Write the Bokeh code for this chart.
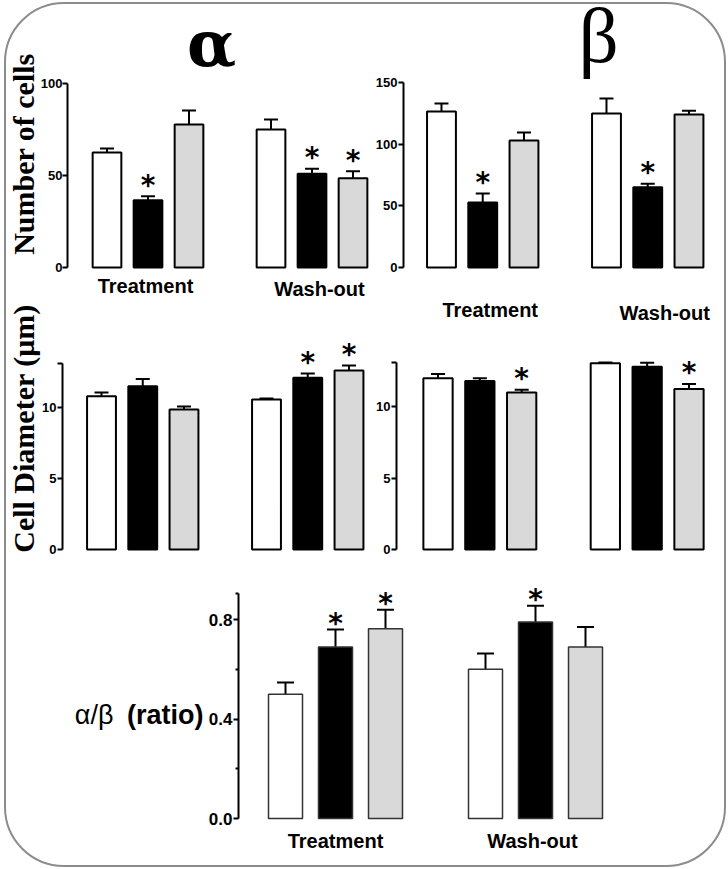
import math
from bokeh.plotting import figure
from bokeh.models import (ColumnDataSource, FixedTicker, Whisker, TeeHead, Label,
                          PrintfTickFormatter, Range1d)
from bokeh.layouts import row, column
from bokeh.core.properties import value
from bokeh.embed import file_html
from bokeh.resources import INLINE

# ---------------- data ----------------
groups = ["Treatment", "Wash-out"]
conditions = ["Condition 1", "Condition 2", "Condition 3"]
bar_colors = ["white", "black", "#d9d9d9"]

alpha_cells = [62.5, 36.5, 77.7, 75.0, 51.0, 48.5]
alpha_cells_err = [2.2, 2.2, 7.6, 5.4, 2.7, 3.8]
alpha_cells_sig = [0, 1, 0, 0, 1, 1]

beta_cells = [126.5, 52.7, 103.0, 124.9, 65.0, 124.0]
beta_cells_err = [6.5, 7.3, 6.5, 12.1, 3.0, 3.0]
beta_cells_sig = [0, 1, 0, 0, 1, 0]

alpha_diam = [10.8, 11.5, 9.86, 10.56, 12.1, 12.6]
alpha_diam_err = [0.26, 0.5, 0.21, 0.07, 0.3, 0.36]
alpha_diam_sig = [0, 0, 0, 0, 1, 1]

beta_diam = [12.0, 11.8, 11.0, 13.05, 12.8, 11.25]
beta_diam_err = [0.3, 0.2, 0.2, 0.05, 0.28, 0.35]
beta_diam_sig = [0, 0, 1, 0, 0, 1]

ratio = [0.50, 0.69, 0.763, 0.60, 0.79, 0.69]
ratio_err = [0.047, 0.07, 0.077, 0.064, 0.066, 0.08]
ratio_sig = [0, 1, 1, 0, 1, 0]

cells_alpha_ticks = [0, 50, 100]
cells_beta_ticks = [0, 50, 100, 150]
diam_ticks = [0, 5, 10]
diam_axis_top = 13.1
ratio_ticks = [0.0, 0.4, 0.8]
ratio_minor_ticks = [0.2, 0.6]
ratio_axis_top = 0.905

SANS = "Liberation Sans"
SERIF = "Liberation Serif"


def panel(vals, errs, sig, *, width, height, x_range, y_range, axis_x, axis_top,
          ticks, top_tick=None, minor=None, minor_out=3, fmt=None,
          tick_size="13px", tick_standoff=1, show_groups=True,
          label_dx=(0, 0), label_dy=(11, 11),
          bar_w=0.7, cap=14, star_offset=-11, outline="black", outline_w=2):
    p = figure(width=width, height=height,
               x_range=Range1d(*x_range), y_range=Range1d(*y_range),
               output_backend="svg", toolbar_location=None,
               x_axis_location=None, y_axis_location="left",
               min_border_left=0, min_border_right=0,
               min_border_top=0, min_border_bottom=0)
    p.background_fill_color = None
    p.border_fill_color = None
    p.outline_line_color = None
    p.grid.grid_line_color = None

    n = len(conditions)
    xs = [g * (n + 1) + c for g in range(len(groups)) for c in range(n)]
    colors = [bar_colors[c] for g in range(len(groups)) for c in range(n)]
    upper = [v + e for v, e in zip(vals, errs)]
    src = ColumnDataSource(dict(x=xs, top=vals, upper=upper, color=colors))
    centers = [g * (n + 1) + (n - 1) / 2 for g in range(len(groups))]

    p.add_layout(Whisker(source=src, base="x", lower="top", upper="upper",
                         dimension="height", line_width=2, line_color="black",
                         upper_head=TeeHead(size=cap, line_width=2, line_color="black"),
                         lower_head=None))
    p.vbar(x="x", top="top", bottom=0, width=bar_w, fill_color="color",
           line_color=outline, line_width=outline_w, source=src)

    # significance stars
    sx = [x for x, s in zip(xs, sig) if s]
    sy = [u for u, s in zip(upper, sig) if s]
    p.text(x=sx, y=sy, text=["*"] * len(sx), text_align="center",
           text_baseline="alphabetic", y_offset=star_offset,
           text_font=value("DejaVu Sans"),
           text_font_style="bold", text_font_size="28px", text_color="black")

    # group names under the bars
    if show_groups:
        gsrc = ColumnDataSource(dict(x=centers, y=[0] * len(centers), text=groups,
                                     dx=list(label_dx), dy=list(label_dy)))
        p.text(x="x", y="y", text="text", x_offset="dx", y_offset="dy", source=gsrc,
               text_align="center", text_baseline="top",
               text_font=value(SANS), text_font_style="bold",
               text_font_size="20px", text_color="black")

    # y axis drawn at a fixed position inside the frame
    ax = p.yaxis[0]
    ax.fixed_location = axis_x
    major = list(ticks)
    minors = list(minor or [])
    if top_tick is not None:
        minors.append(top_tick)
    ax.ticker = FixedTicker(ticks=major, minor_ticks=minors)
    if fmt is not None:
        ax.formatter = PrintfTickFormatter(format=fmt)
    ax.bounds = (0, axis_top)
    ax.axis_line_width = 2
    ax.axis_line_color = "black"
    ax.major_tick_line_width = 2
    ax.major_tick_in = 0
    ax.major_tick_out = 5
    ax.minor_tick_line_width = 2
    ax.minor_tick_in = 0
    ax.minor_tick_out = minor_out if minors else 0
    ax.major_label_standoff = tick_standoff
    ax.major_label_text_font = SANS
    ax.major_label_text_font_style = "bold"
    ax.major_label_text_font_size = tick_size
    ax.major_label_text_color = "black"
    return p


def add_text(p, x, y, text, font, size, style="normal", angle=0.0,
             align="center", baseline="middle"):
    p.add_layout(Label(x=x, y=y, x_units="screen", y_units="screen", text=text,
                       angle=angle, text_align=align, text_baseline=baseline,
                       text_font=font, text_font_style=style,
                       text_font_size=size, text_color="black"))


# column A (alpha)
pA1 = panel(alpha_cells, alpha_cells_err, alpha_cells_sig, width=363, height=300,
            x_range=(-2.451, 6.402), y_range=(-20.11, 142.93), axis_x=-0.963,
            axis_top=100, ticks=cells_alpha_ticks, tick_standoff=0,
            label_dx=(-2.5, 7.5), label_dy=(8, 11))
pA2 = panel(alpha_diam, alpha_diam_err, alpha_diam_sig, width=363, height=258,
            x_range=(-2.303, 6.497), y_range=(-0.916, 17.256), axis_x=-0.945,
            axis_top=diam_axis_top, ticks=diam_ticks, top_tick=diam_axis_top,
            minor_out=5, show_groups=False)
# column B (beta)
pB1 = panel(beta_cells, beta_cells_err, beta_cells_sig, width=355, height=318,
            x_range=(-1.745, 6.861), y_range=(-44.6, 213.25), axis_x=-0.921,
            axis_top=150, ticks=cells_beta_ticks,
            label_dx=(7.5, 17), label_dy=(32, 35))
pB2 = panel(beta_diam, beta_diam_err, beta_diam_sig, width=355, height=240,
            x_range=(-1.638, 6.849), y_range=(-0.911, 15.907), axis_x=-0.992,
            axis_top=diam_axis_top, ticks=diam_ticks, top_tick=diam_axis_top,
            minor_out=5, show_groups=False)
# bottom (ratio)
pC = panel(ratio, ratio_err, ratio_sig, width=718, height=303,
           x_range=(-5.58, 8.78), y_range=(-0.189, 1.0298), axis_x=-0.94,
           axis_top=ratio_axis_top, ticks=ratio_ticks, top_tick=ratio_axis_top,
           minor=ratio_minor_ticks, minor_out=3, fmt="%.1f", tick_size="17px",
           label_dx=(0, -3), label_dy=(11, 11), bar_w=0.68, cap=17, star_offset=-6,
           outline="#333333", outline_w=1.5)

# texts
add_text(pA1, 205, 261, "α", "DejaVu Serif", "64px", style="bold",
         baseline="alphabetic")
add_text(pB1, 229, 287, "β", SERIF, "79px", baseline="alphabetic")
add_text(pA1, 16.8, 150.5, "Number of cells", SERIF, "30px", style="bold",
         angle=math.pi / 2)
add_text(pA2, 16.8, 134, "Cell Diameter (μm)", SERIF, "30px", style="bold",
         angle=math.pi / 2)
add_text(pC, 107, 151, "α/β", SANS, "27px", align="right")
add_text(pC, 197, 151, "(ratio)", SANS, "27px", style="bold", align="right")

layout = column(row(column(pA1, pA2), column(pB1, pB2)), pC,
                styles={"border": "2px solid #8c8c8c", "border-radius": "60px",
                        "margin-left": "4px", "margin-top": "2px"})

open("out.html", "w").write(file_html(layout, INLINE, title="alpha beta cells"))
